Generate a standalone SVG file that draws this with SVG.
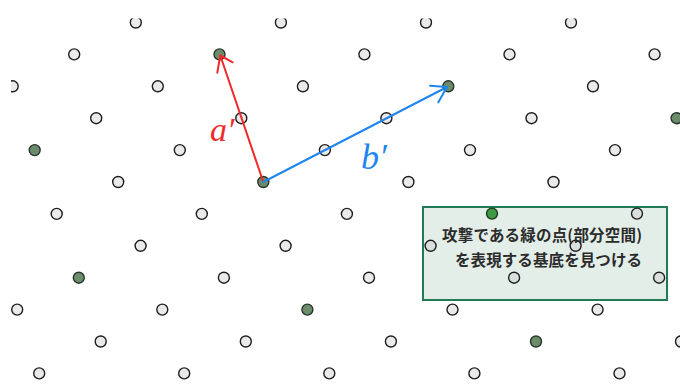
<svg xmlns="http://www.w3.org/2000/svg" width="680" height="385" viewBox="0 0 680 385">
<style>
.p{fill:#c8c8c8;fill-opacity:0.38;stroke:#1e1e1e;stroke-width:1.4}
.g{fill:#6b8d6b;stroke:#27352a;stroke-width:1.4}
.gb{fill:#3d9a40;stroke:#1f3a22;stroke-width:1.4}
.lbl{font-family:"Liberation Serif",serif;font-style:italic;font-size:36px}
.jt{font-family:"Noto Sans CJK JP","Noto Sans",sans-serif;font-weight:bold;font-size:15.5px;fill:#2b2b2b}
</style>
<defs>
<clipPath id="clip"><rect x="11" y="18.5" width="680" height="370"/></clipPath>
</defs>
<rect width="680" height="385" fill="#ffffff"/>
<g id="box">
<rect x="423" y="207" width="244" height="93" fill="#e4eee9" stroke="#217a55" stroke-width="2"/>
</g>
<g id="lattice" clip-path="url(#clip)">
<circle class="p" cx="135.8" cy="22.5" r="5.5"/>
<circle class="p" cx="280.9" cy="22.5" r="5.5"/>
<circle class="p" cx="426" cy="22.5" r="5.5"/>
<circle class="p" cx="571" cy="22.5" r="5.5"/>
<circle class="p" cx="74.2" cy="54.4" r="5.5"/>
<circle id="ptA" class="g" cx="219.5" cy="54.4" r="5.5"/>
<circle class="p" cx="364.4" cy="54.4" r="5.5"/>
<circle class="p" cx="509.5" cy="54.4" r="5.5"/>
<circle class="p" cx="654.6" cy="54.4" r="5.5"/>
<circle class="p" cx="12.7" cy="86.3" r="5.5"/>
<circle class="p" cx="157.8" cy="86.3" r="5.5"/>
<circle class="p" cx="302.9" cy="86.3" r="5.5"/>
<circle id="ptB" class="g" cx="448.3" cy="86.3" r="5.5"/>
<circle class="p" cx="593" cy="86.3" r="5.5"/>
<circle class="p" cx="96.2" cy="118.2" r="5.5"/>
<circle class="p" cx="241.3" cy="118.2" r="5.5"/>
<circle class="p" cx="386.4" cy="118.2" r="5.5"/>
<circle class="p" cx="531.5" cy="118.2" r="5.5"/>
<circle class="g" cx="676.6" cy="118.2" r="5.5"/>
<circle class="g" cx="34.7" cy="150.1" r="5.5"/>
<circle class="p" cx="179.8" cy="150.1" r="5.5"/>
<circle class="p" cx="324.9" cy="150.1" r="5.5"/>
<circle class="p" cx="470" cy="150.1" r="5.5"/>
<circle class="p" cx="615" cy="150.1" r="5.5"/>
<circle class="p" cx="118.2" cy="182" r="5.5"/>
<circle id="ptO" class="g" cx="263.3" cy="182" r="5.5"/>
<circle class="p" cx="408.4" cy="182" r="5.5"/>
<circle class="p" cx="553.5" cy="182" r="5.5"/>
<circle class="p" cx="56.7" cy="213.9" r="5.5"/>
<circle class="p" cx="201.8" cy="213.9" r="5.5"/>
<circle class="p" cx="346.9" cy="213.9" r="5.5"/>
<circle class="gb" cx="492" cy="213.6" r="5.5"/>
<circle class="p" cx="637" cy="213.6" r="5.5"/>
<circle class="p" cx="140.6" cy="245.8" r="5.5"/>
<circle class="p" cx="285.6" cy="245.8" r="5.5"/>
<circle class="p" cx="430.6" cy="245.8" r="5.5"/>
<circle class="p" cx="575.6" cy="245.8" r="5.5"/>
<circle class="g" cx="78.8" cy="277.7" r="5.5"/>
<circle class="p" cx="223.9" cy="277.7" r="5.5"/>
<circle class="p" cx="369" cy="277.7" r="5.5"/>
<circle class="p" cx="514.1" cy="277.7" r="5.5"/>
<circle class="p" cx="659.1" cy="277.7" r="5.5"/>
<circle class="p" cx="17.2" cy="309.6" r="5.5"/>
<circle class="p" cx="162.3" cy="309.6" r="5.5"/>
<circle class="g" cx="307.4" cy="309.6" r="5.5"/>
<circle class="p" cx="452.5" cy="309.6" r="5.5"/>
<circle class="p" cx="597.6" cy="309.6" r="5.5"/>
<circle class="p" cx="100.7" cy="341.5" r="5.5"/>
<circle class="p" cx="245.8" cy="341.5" r="5.5"/>
<circle class="p" cx="390.9" cy="341.5" r="5.5"/>
<circle class="g" cx="536" cy="341.5" r="5.5"/>
<circle class="p" cx="681" cy="341.5" r="5.5"/>
<circle class="p" cx="39.2" cy="373.4" r="5.5"/>
<circle class="p" cx="184.2" cy="373.4" r="5.5"/>
<circle class="p" cx="329.3" cy="373.4" r="5.5"/>
<circle class="p" cx="474.4" cy="373.4" r="5.5"/>
<circle class="p" cx="619.5" cy="373.4" r="5.5"/>
</g>
<g id="connectors" fill="none" stroke-width="2" stroke-linecap="round" stroke-linejoin="round">
<g id="arrow-a" stroke="#f02a2a">
<line x1="263.3" y1="182" x2="220.3" y2="55.5"/>
<polyline points="232.7,62.3 220.3,55.5 217.3,72.7"/>
</g>
<g id="arrow-b" stroke="#1e86ee">
<line x1="263.3" y1="182" x2="447" y2="87"/>
<polyline points="430,85.7 447,87 438.3,102.3"/>
</g>
</g>
<g id="labels">
<text class="lbl" x="210" y="141" font-size="34" fill="#f02a2a" style="font-size:34px">a′</text>
<text class="lbl" x="361" y="169" fill="#1e86ee">b′</text>
</g>
<g id="box-text">
<text class="jt" x="442" y="241" textLength="200" lengthAdjust="spacing">攻撃である緑の点(部分空間)</text>
<text class="jt" x="455" y="265.5" textLength="187" lengthAdjust="spacing">を表現する基底を見つける</text>
</g>
</svg>
